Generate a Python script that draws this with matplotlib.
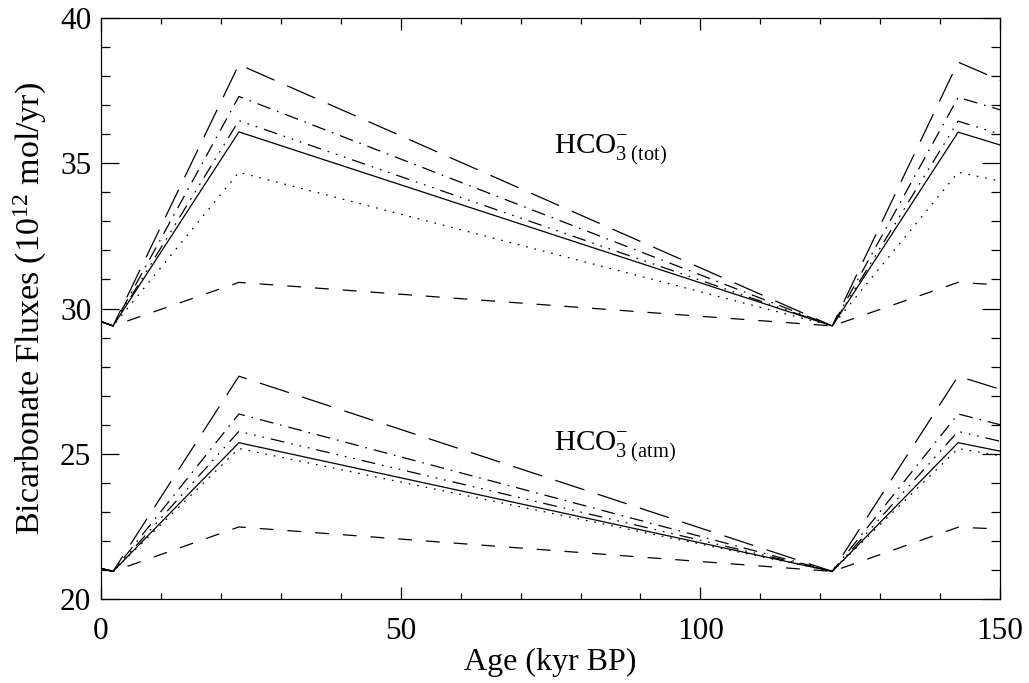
import matplotlib
matplotlib.use("Agg")
import matplotlib.pyplot as plt
from matplotlib.ticker import MultipleLocator

plt.rcParams["font.family"] = ["Liberation Serif", "DejaVu Serif"]
plt.rcParams["mathtext.fontset"] = "custom"
plt.rcParams["mathtext.rm"] = "Liberation Serif"
plt.rcParams["mathtext.it"] = "Liberation Serif:italic"
plt.rcParams["lines.scale_dashes"] = False

# ages (kyr BP) of the curve vertices
age = [0, 2, 23, 122, 143, 150]

# total bicarbonate flux, one list per run
tot_solid = [29.55, 29.4, 36.08, 29.4, 36.07, 35.63]
tot_dotted = [29.55, 29.4, 34.69, 29.4, 34.69, 34.39]
tot_dashed = [29.55, 29.4, 30.90, 29.4, 30.90, 30.81]
tot_dashdot = [29.55, 29.4, 37.30, 29.4, 37.27, 36.84]
tot_dash3dot = [29.55, 29.4, 36.47, 29.4, 36.45, 36.00]
tot_longdash = [29.55, 29.4, 38.40, 29.4, 38.48, 37.86]

# atmospheric bicarbonate flux
atm_solid = [21.05, 20.95, 25.38, 20.95, 25.38, 25.09]
atm_dotted = [21.05, 20.95, 25.18, 20.95, 25.18, 24.93]
atm_dashed = [21.05, 20.95, 22.48, 20.95, 22.47, 22.41]
atm_dashdot = [21.05, 20.95, 26.37, 20.95, 26.37, 26.00]
atm_dash3dot = [21.05, 20.95, 25.77, 20.95, 25.77, 25.43]
atm_longdash = [21.05, 20.95, 27.67, 20.95, 27.67, 27.22]

styles = {
    "solid": "-",
    "dotted": (0, (1.2, 5)),
    "dashed": (0, (10, 10)),
    "dashdot": (0, (10, 5, 1.2, 5)),
    "dash3dot": (0, (10, 5, 1.2, 5, 1.2, 5, 1.2, 5)),
    "longdash": (0, (22, 10)),
}

tot = {"solid": tot_solid, "dotted": tot_dotted, "dashed": tot_dashed,
       "dashdot": tot_dashdot, "dash3dot": tot_dash3dot, "longdash": tot_longdash}
atm = {"solid": atm_solid, "dotted": atm_dotted, "dashed": atm_dashed,
       "dashdot": atm_dashdot, "dash3dot": atm_dash3dot, "longdash": atm_longdash}

fig = plt.figure(figsize=(10.29, 6.83), dpi=100)
ax = fig.add_axes([0.0982, 0.123, 0.8737, 0.8506])

for group in (tot, atm):
    for name, vals in group.items():
        ax.plot(age, vals, color="black", lw=0.9, linestyle=styles[name])

ax.set_xlim(0, 150)
ax.set_ylim(20, 40)
ax.xaxis.set_major_locator(MultipleLocator(50))
ax.xaxis.set_minor_locator(MultipleLocator(10))
ax.yaxis.set_major_locator(MultipleLocator(5))
ax.yaxis.set_minor_locator(MultipleLocator(1))

ax.tick_params(axis="both", which="both", direction="in", top=True, right=True,
               width=0.9, labelsize=22.5, color="black")
ax.tick_params(axis="x", which="major", length=8.4, pad=13)
ax.tick_params(axis="x", which="minor", length=4.2)
ax.tick_params(axis="y", which="major", length=13, pad=7)
ax.tick_params(axis="y", which="minor", length=6.5)
for s in ax.spines.values():
    s.set_linewidth(0.9)

ax.set_xlabel("Age (kyr BP)", fontsize=23, labelpad=1)
ax.set_ylabel(r"Bicarbonate Fluxes (10$^{12}$ mol/yr)", fontsize=24.5, labelpad=8)

ax.text(75.5, 35.45, r"HCO$_{3\ \mathrm{(tot)}}^{-}$", fontsize=21, va="center")
ax.text(75.5, 25.25, r"HCO$_{3\ \mathrm{(atm)}}^{-}$", fontsize=21, va="center")

fig.savefig("out.png", dpi=100)
